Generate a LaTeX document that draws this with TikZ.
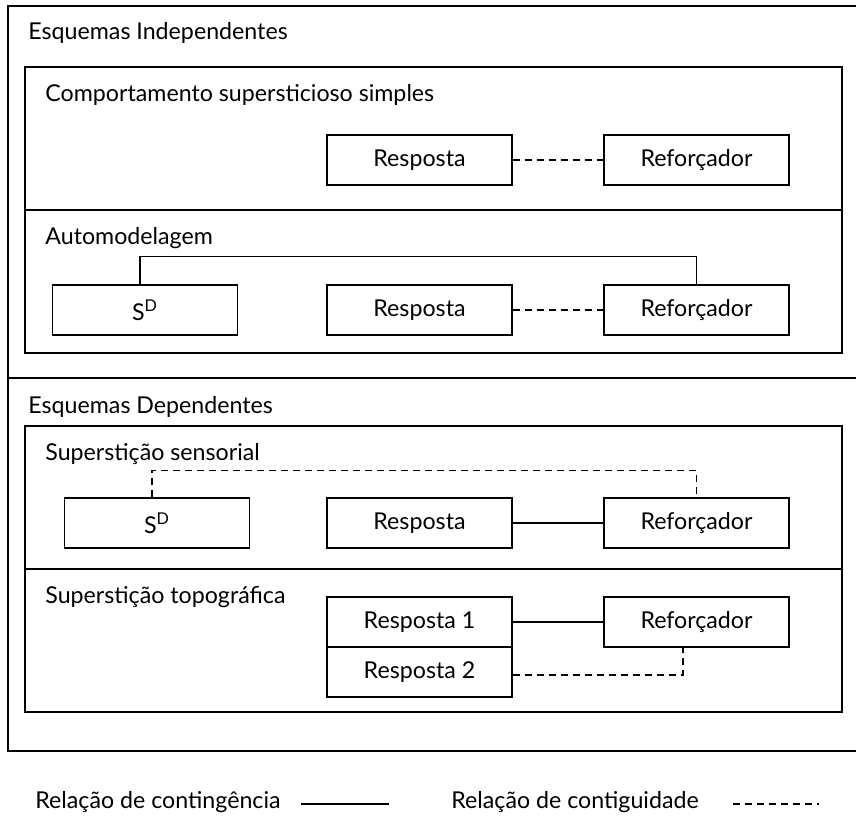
\documentclass[tikz,border=0pt]{standalone}
\usepackage{fontspec}
\setmainfont{Lato}
\tikzset{
  caixa/.style={draw,line width=0.7pt,minimum width=92.5pt,minimum height=25pt,inner sep=0pt,font=\fontsize{11.6}{14}\selectfont},
  titulo/.style={anchor=base west,inner sep=0pt,font=\fontsize{11.6}{14}\selectfont},
  quadro/.style={line width=0.7pt},
  contingencia/.style={line width=0.6pt},
  contiguidade/.style={line width=0.6pt,dash pattern=on 3.5pt off 2.5pt}
}
\begin{document}
\begin{tikzpicture}[x=0.5pt,y=-0.5pt]
      \useasboundingbox (0,0) rectangle (856,815);
      \draw[quadro] (8,6) rectangle (862,751);
      \draw[quadro] (8,378) -- (862,378);
      \draw[quadro] (25,67) rectangle (842,353);
      \draw[quadro] (25,210) -- (842,210);
      \draw[quadro] (25,426) rectangle (842,712);
      \draw[quadro] (25,569) -- (842,569);
      \node[titulo] (ind) at (28,39) {Esquemas Independentes};
      \node[titulo] (css) at (45,101) {Comportamento supersticioso simples};
      \node[titulo] (aut) at (45,244) {Automodelagem};
      \node[titulo] (dep) at (28,413) {Esquemas Dependentes};
      \node[titulo] (sen) at (45,460) {Superstição sensorial};
      \node[titulo] (top) at (45,603) {Superstição topográfica};
      \node[caixa] (r1) at (419.5,160) {Resposta};
      \node[caixa] (f1) at (696.5,160) {Reforçador};
      \node[caixa] (s2) at (145,310) {S\textsuperscript{D}};
      \node[caixa] (r2) at (419.5,310) {Resposta};
      \node[caixa] (f2) at (696.5,310) {Reforçador};
      \node[caixa] (s3) at (157,523) {S\textsuperscript{D}};
      \node[caixa] (r3) at (419.5,523) {Resposta};
      \node[caixa] (f3) at (696.5,523) {Reforçador};
      \node[caixa] (r4a) at (419.5,622) {Resposta 1};
      \node[caixa] (r4b) at (419.5,672) {Resposta 2};
      \node[caixa] (f4) at (696.5,622) {Reforçador};
      \begin{scope}[contiguidade]
        \draw (r1) to (f1);
        \draw (r2) to (f2);
        \draw ([xshift=-2.5pt]s3.north) -- ++(0,-27) -| (f3.north);
        \draw ([yshift=-1.5pt]r4b.east) -| ([xshift=-6.75pt]f4.south);
      \end{scope}
      \begin{scope}[contingencia]
        \draw ([xshift=-2.5pt]s2.north) -- ++(0,-28) -| (f2.north);
        \draw (r3) to (f3);
        \draw (r4a) to (f4);
      \end{scope}
      \node[titulo] (lc) at (35,808) {Relação de contingência};
      \node[titulo] (lg) at (451,808) {Relação de contiguidade};
      \coordinate (lc1) at (301,804);
      \coordinate (lc2) at (389,804);
      \coordinate (lg1) at (733,804);
      \coordinate (lg2) at (819,804);
      \draw[contingencia] (lc1) -- (lc2);
      \draw[contiguidade] (lg1) -- (lg2);
    \end{tikzpicture}
\end{document}
